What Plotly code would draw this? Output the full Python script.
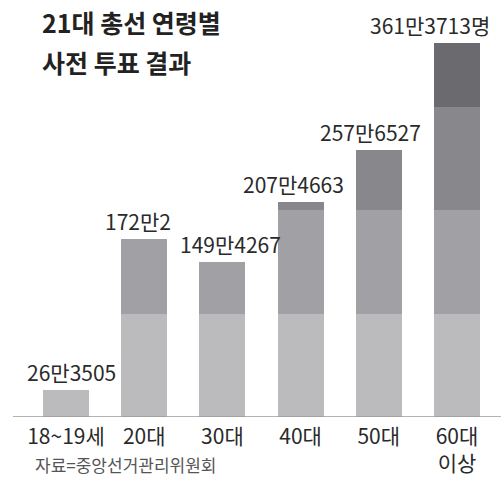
import plotly.graph_objects as go

categories = ["18~19세", "20대", "30대", "40대", "50대", "60대<br>이상"]
values = [263505, 1720002, 1494267, 2074663, 2576527, 3613713]
value_labels = ["26만3505", "172만2", "149만4267", "207만4663", "257만6527", "361만3713명"]
label_xshift = [5, -6, 8, -7, -8, -27]

band_size = 1_000_000
band_colors = ["#bbbbbd", "#a0a0a5", "#87878c", "#6a6a6f"]

FONT = "Noto Sans CJK KR, sans-serif"

fig = go.Figure()
xs = list(range(len(categories)))
for b, col in enumerate(band_colors):
    seg = [max(0, min(v - b * band_size, band_size)) for v in values]
    fig.add_trace(go.Bar(x=xs, y=seg, marker=dict(color=col, line=dict(width=0)),
                         width=0.59, hoverinfo="skip", showlegend=False))

for i, (v, lab) in enumerate(zip(values, value_labels)):
    fig.add_annotation(x=i, y=v, text=lab, showarrow=False, yanchor="bottom",
                       yshift=1, xshift=label_xshift[i],
                       font=dict(family=FONT, size=21, color="#2a2a2a"))

fig.add_annotation(xref="paper", yref="paper", x=0.055, y=0.995, yanchor="middle",
                   xanchor="left", showarrow=False, align="left",
                   text="<b>21대 총선 연령별</b>",
                   font=dict(family="Noto Sans CJK KR", size=25, color="#222"))
fig.add_annotation(xref="paper", yref="paper", x=0.055, y=0.895, yanchor="middle",
                   xanchor="left", showarrow=False, align="left",
                   text="<b>사전 투표 결과</b>",
                   font=dict(family="Noto Sans CJK KR", size=25, color="#222"))
fig.add_annotation(xref="paper", yref="paper", x=0.04, y=-0.12, yanchor="middle",
                   xanchor="left", showarrow=False,
                   text="자료=중앙선거관리위원회",
                   font=dict(family="Noto Sans CJK KR", size=17, color="#555"))

fig.update_layout(
    barmode="stack",
    width=501, height=477,
    margin=dict(l=13, r=0, t=20, b=56),
    paper_bgcolor="white", plot_bgcolor="white",
    xaxis=dict(tickvals=xs, ticktext=categories, range=[-0.678, 5.563],
               showgrid=False, zeroline=False, showline=False, ticks="",
               ticklabelstandoff=5,
               tickfont=dict(family=FONT, size=21, color="#2a2a2a")),
    yaxis=dict(range=[0, 3.837e6], visible=False, showgrid=False),
    shapes=[dict(type="line", xref="paper", yref="y", x0=0, x1=1, y0=0, y1=0,
                 line=dict(color="#9a9a9a", width=1.5))],
)

fig.write_html("out.html")
